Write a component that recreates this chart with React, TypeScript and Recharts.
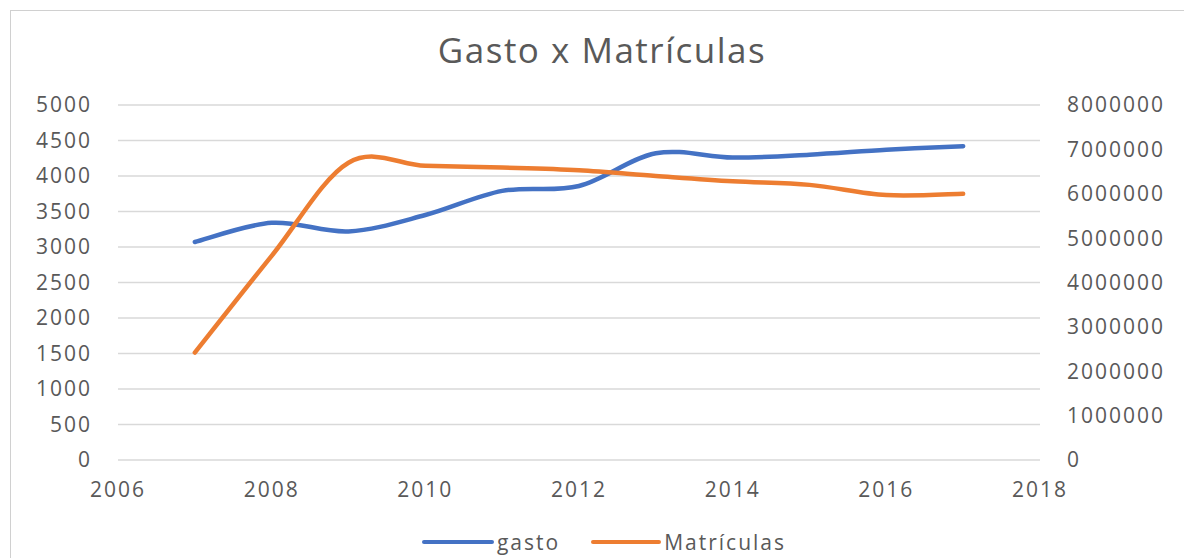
import React from 'react';
import {
  LineChart,
  Line,
  XAxis,
  YAxis,
  CartesianGrid,
  Legend,
} from 'recharts';

const anos = [2007, 2008, 2009, 2010, 2011, 2012, 2013, 2014, 2015, 2016, 2017];
const gasto = [3070, 3340, 3220, 3450, 3790, 3860, 4320, 4260, 4300, 4370, 4420];
const matriculas = [
  2420000, 4600000, 6700000, 6630000, 6590000, 6530000, 6400000, 6280000, 6200000, 5970000, 6000000,
];

const xTicks = [2006, 2008, 2010, 2012, 2014, 2016, 2018];
const leftTicks = [0, 500, 1000, 1500, 2000, 2500, 3000, 3500, 4000, 4500, 5000];
const rightTicks = [0, 1000000, 2000000, 3000000, 4000000, 5000000, 6000000, 7000000, 8000000];

const dados = anos.map((ano, i) => ({ ano, gasto: gasto[i], Matriculas: matriculas[i] }));

const FONT = '"Open Sans", sans-serif';
const TEXT = '#595959';

const tick = { fill: TEXT, fontSize: 21, fontFamily: FONT, letterSpacing: 2 };

// suavização parecida com a do Excel (Catmull-Rom)
const curvaSuave = (context: any) => {
  let pts: [number, number][] = [];
  return {
    areaStart() {},
    areaEnd() {},
    lineStart() {
      pts = [];
    },
    point(x: number, y: number) {
      pts.push([+x, +y]);
    },
    lineEnd() {
      if (!pts.length) return;
      context.moveTo(pts[0][0], pts[0][1]);
      for (let i = 0; i < pts.length - 1; i++) {
        const p0 = pts[i - 1] || pts[i];
        const p1 = pts[i];
        const p2 = pts[i + 1];
        const p3 = pts[i + 2] || p2;
        context.bezierCurveTo(
          p1[0] + (p2[0] - p0[0]) / 6,
          p1[1] + (p2[1] - p0[1]) / 6,
          p2[0] - (p3[0] - p1[0]) / 6,
          p2[1] - (p3[1] - p1[1]) / 6,
          p2[0],
          p2[1]
        );
      }
    },
  };
};

const LegendaCustom = () => {
  const itens = [
    { nome: 'gasto', cor: '#4472C4', larg: 72, gap: 31 },
    { nome: 'Matrículas', cor: '#ED7D31', larg: 70, gap: 0 },
  ];
  return (
    <div
      style={{
        height: 24,
        display: 'flex',
        justifyContent: 'center',
        alignItems: 'center',
        paddingLeft: 24,
        fontFamily: FONT,
        fontSize: 21,
        lineHeight: '22px',
        letterSpacing: 2,
        color: TEXT,
      }}
    >
      {itens.map((it) => (
        <div key={it.nome} style={{ display: 'flex', alignItems: 'center', marginRight: it.gap }}>
          <span style={{ display: 'inline-block', width: it.larg, height: 4, borderRadius: 2, background: it.cor, marginRight: 3 }} />
          <span>{it.nome}</span>
        </div>
      ))}
    </div>
  );
};

const App: React.FC = () => {
  return (
    <div style={{ position: 'absolute', left: 0, top: 0, width: 1184, height: 558, background: '#fff', overflow: 'hidden' }}>
      <div
        style={{
          position: 'absolute',
          left: 10,
          top: 10,
          width: 1200,
          height: 600,
          border: '1.5px solid #d0d0d0',
        }}
      />
      <div
        style={{
          position: 'absolute',
          top: 26,
          left: 10,
          width: 1184,
          textAlign: 'center',
          fontFamily: FONT,
          fontSize: 35,
          letterSpacing: 1.5,
          color: TEXT,
        }}
      >
        Gasto x Matrículas
      </div>
      <div style={{ position: 'absolute', left: 0, top: 0 }}>
        <LineChart width={1184} height={558} data={dados} margin={{ top: 105, right: 0, left: 0, bottom: 34 }}>
          <CartesianGrid vertical={false} stroke="#d9d9d9" strokeWidth={1.5} yAxisId="left" />
          <XAxis
            dataKey="ano"
            type="number"
            domain={[2006, 2018]}
            ticks={xTicks}
            axisLine={false}
            tickLine={false}
            tick={tick}
            tickMargin={16}
            height={40}
          />
          <YAxis
            yAxisId="left"
            domain={[0, 5000]}
            ticks={leftTicks}
            axisLine={false}
            tickLine={false}
            tick={tick}
            width={118}
            tickMargin={20}
          />
          <YAxis
            yAxisId="right"
            orientation="right"
            domain={[0, 8000000]}
            ticks={rightTicks}
            axisLine={false}
            tickLine={false}
            tick={{ ...tick, textAnchor: 'start' }}
            width={144}
            tickMargin={21}
          />
          <Line
            yAxisId="left"
            type={curvaSuave as any}
            dataKey="gasto"
            name="gasto"
            stroke="#4472C4"
            strokeWidth={4.5}
            strokeLinecap="round"
            dot={false}
            isAnimationActive={false}
          />
          <Line
            yAxisId="right"
            type={curvaSuave as any}
            dataKey="Matriculas"
            name="Matrículas"
            stroke="#ED7D31"
            strokeWidth={4.5}
            strokeLinecap="round"
            dot={false}
            isAnimationActive={false}
          />
          <Legend
            content={<LegendaCustom />}
            wrapperStyle={{ position: 'absolute', left: 0, width: 1184, bottom: 4 }}
          />
        </LineChart>
      </div>
    </div>
  );
};

export default App;
